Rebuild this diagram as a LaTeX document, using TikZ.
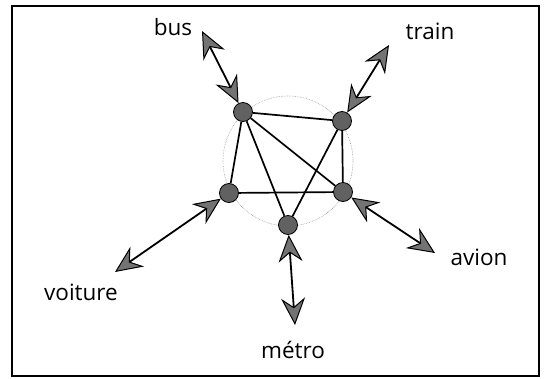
\documentclass[tikz,border=0pt]{standalone}
\usepackage{fontspec}
\setmainfont{Open Sans}
\usetikzlibrary{arrows.meta}
\begin{document}
\begin{tikzpicture}[x=1pt,y=-1pt,
  hub/.style={circle,draw=black,line width=0.8pt,fill=black!62,minimum size=19pt,inner sep=0pt},
  edge/.style={line width=1.7pt,black},
  tip/.tip={Stealth[length=27pt,width=24pt,inset=9pt,fill=black!55,line width=1pt]},
  link/.style={line width=1.8pt,black,tip-tip},
  lbl/.style={font=\fontsize{22.5}{27}\selectfont,inner sep=0pt}]
\useasboundingbox (0,0) rectangle (549,378);
\draw[line width=1.2pt] (12,6) rectangle (539,376);
\draw[black!40,line width=0.6pt,densely dotted] (288,161) circle[radius=65];
\node[hub] (bus) at (243,112) {};
\node[hub] (train) at (342,121) {};
\node[hub] (avion) at (343,192) {};
\node[hub] (metro) at (288,225) {};
\node[hub] (voiture) at (229,193) {};
\draw[edge] (bus) -- (train);
\draw[edge] (bus) -- (voiture);
\draw[edge] (bus) -- (metro);
\draw[edge] (bus) -- (avion);
\draw[edge] (train) -- (metro);
\draw[edge] (train) -- (avion);
\draw[edge] (voiture) -- (avion);
\coordinate (busout) at (202,31);
\coordinate (trainout) at (389,45);
\coordinate (avionout) at (435,253);
\coordinate (metroout) at (295,325);
\coordinate (voitureout) at (115,272);
\draw[link] (busout) -- (bus);
\draw[link] (trainout) -- (train);
\draw[link] (avionout) -- (avion);
\draw[link] (metroout) -- (metro);
\draw[link] (voitureout) -- (voiture);
\node[lbl] (tbus) at (173,27) {bus};
\node[lbl] (ttrain) at (430,31) {train};
\node[lbl] (tavion) at (479,257) {avion};
\node[lbl] (tmetro) at (293,350) {métro};
\node[lbl] (tvoiture) at (81,292) {voiture};
\end{tikzpicture}
\end{document}
